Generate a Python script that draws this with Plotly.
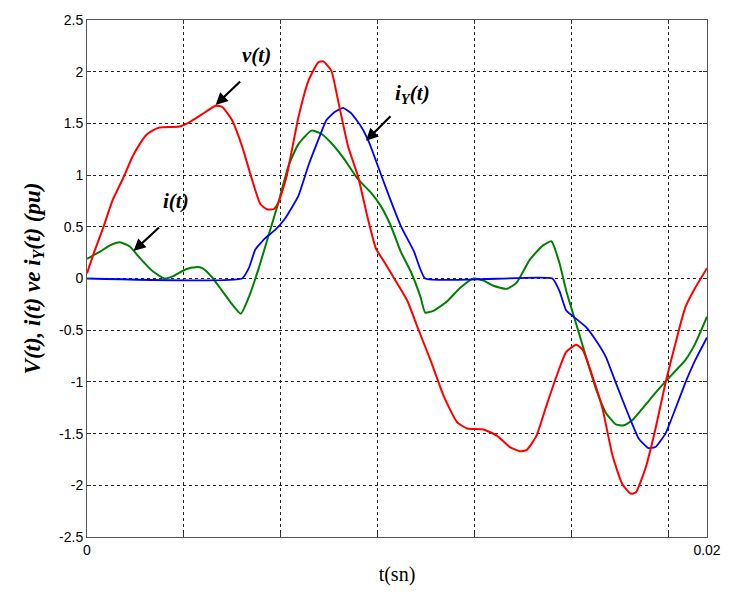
import plotly.graph_objects as go

# Time samples (s) and per-unit values for each waveform
t_v = [0.0, 0.00026, 0.00051, 0.00083, 0.00115, 0.00147, 0.0017, 0.00192, 0.00211, 0.00234,
       0.00298, 0.0033, 0.00372,
       0.00415, 0.00436, 0.00468, 0.005, 0.00532, 0.00559, 0.0058, 0.00602, 0.00618, 0.00644,
       0.00682, 0.00714, 0.00746, 0.00762, 0.00788, 0.0081, 0.00842, 0.00874, 0.00906, 0.00932,
       0.00959, 0.00991, 0.01034, 0.01066, 0.01108, 0.01151, 0.01194, 0.01226, 0.01279, 0.01322,
       0.01364, 0.01396, 0.01418, 0.0145, 0.01482, 0.01514, 0.01546, 0.01578, 0.01599, 0.01631,
       0.01663, 0.01695, 0.01727, 0.01754, 0.0177, 0.01802, 0.01834, 0.01866, 0.01898, 0.0193,
       0.01962, 0.02]
v = [0.05, 0.28, 0.48, 0.76, 0.96, 1.18, 1.30, 1.39, 1.43, 1.46,
     1.47, 1.51, 1.59,
     1.67, 1.66, 1.53, 1.28, 0.96, 0.72, 0.67, 0.67, 0.74, 0.99,
     1.56, 1.91, 2.09, 2.10, 2.01, 1.72, 1.28, 0.99, 0.58, 0.29,
     0.16, 0.0, -0.22, -0.47, -0.79, -1.14, -1.39, -1.45, -1.46, -1.52,
     -1.63, -1.67, -1.66, -1.52, -1.23, -0.95, -0.71, -0.64, -0.69, -0.95,
     -1.26, -1.71, -1.99, -2.08, -2.07, -1.83, -1.45, -1.01, -0.63, -0.28,
     -0.09, 0.10]

t_i = [0.0, 0.00042, 0.00074, 0.00106, 0.00138, 0.0017, 0.00212, 0.0025, 0.00276, 0.00319,
       0.00351, 0.00372, 0.00404, 0.00436, 0.00463, 0.00496, 0.00522, 0.00554, 0.00586, 0.00618,
       0.0065, 0.00682, 0.00724, 0.00756, 0.00788, 0.00831, 0.00874, 0.00916, 0.00948, 0.0098,
       0.01012, 0.01044, 0.01076, 0.01091, 0.01119, 0.01162, 0.01204, 0.01247, 0.01279, 0.01311,
       0.01354, 0.01386, 0.01428, 0.01471, 0.01498, 0.01524, 0.01546, 0.01578, 0.0161, 0.01642,
       0.01674, 0.01706, 0.01732, 0.01759, 0.01802, 0.01844, 0.01887, 0.0193, 0.01962, 0.02]
i = [0.19, 0.26, 0.32, 0.35, 0.31, 0.20, 0.07, 0.0, 0.02, 0.09,
     0.11, 0.10, 0.01, -0.12, -0.23, -0.34, -0.18, 0.10, 0.42, 0.74,
     1.09, 1.30, 1.43, 1.40, 1.31, 1.15, 0.96, 0.83, 0.70, 0.51,
     0.26, 0.07, -0.18, -0.33, -0.31, -0.22, -0.09, 0.0, -0.02, -0.07,
     -0.10, -0.04, 0.18, 0.32, 0.36, 0.15, -0.12, -0.44, -0.76, -1.07,
     -1.30, -1.41, -1.42, -1.37, -1.22, -1.07, -0.93, -0.79, -0.63, -0.37]

t_iy = [0.0, 0.005, 0.00522, 0.00543, 0.00575, 0.00607, 0.00639, 0.00682, 0.00714, 0.00746,
        0.00772, 0.00799, 0.00826, 0.00852, 0.00884, 0.00911, 0.00938, 0.0097, 0.01012, 0.01055,
        0.01091, 0.01501, 0.01524, 0.01546, 0.01578, 0.0161, 0.01642, 0.01674, 0.01706, 0.01748,
        0.0178, 0.01811, 0.01834, 0.01866, 0.01898, 0.0193, 0.01962, 0.02]
iy = [0.0, 0.0, 0.10, 0.28, 0.39, 0.47, 0.58, 0.80, 1.09, 1.34,
      1.53, 1.61, 1.65, 1.60, 1.47, 1.31, 1.09, 0.83, 0.51, 0.26,
      0.0, 0.0, -0.12, -0.31, -0.39, -0.47, -0.60, -0.76, -1.01, -1.33,
      -1.55, -1.64, -1.63, -1.50, -1.26, -1.01, -0.79, -0.57]

# Grid positions along t, only the end points labelled
x_grid = [0.0, 0.003125, 0.00625, 0.009375, 0.0125, 0.015625, 0.01875, 0.02]
x_text = ["0", "", "", "", "", "", "", "0.02"]
y_ticks = [-2.5, -2, -1.5, -1, -0.5, 0, 0.5, 1, 1.5, 2, 2.5]
y_text = ["-2.5", "-2", "-1.5", "-1", "-0.5", "0", "0.5", "1", "1.5", "2", "2.5"]

serif = "Liberation Serif, Times New Roman, serif"

fig = go.Figure()
fig.add_trace(go.Scatter(x=t_i, y=i, mode="lines",
                         line=dict(color="#008000", width=2, shape="spline", smoothing=0.5)))
fig.add_trace(go.Scatter(x=t_iy, y=iy, mode="lines",
                         line=dict(color="#0000ff", width=1.8, shape="spline", smoothing=0.4)))
fig.add_trace(go.Scatter(x=t_v, y=v, mode="lines",
                         line=dict(color="#ff0000", width=2, shape="spline", smoothing=0.5)))

label_font = dict(family=serif, size=21, color="black")

# Curve labels
for txt, lx, ly in [("<b><i>v(t)</i></b>", 0.00547, 2.16),
                    ("<b><i>i(t)</i></b>", 0.00287, 0.745),
                    ("<b><i>i<sub>Y</sub>(t)</i></b>", 0.0105, 1.78)]:
    fig.add_annotation(x=lx, y=ly, text=txt, showarrow=False, font=label_font)

# Arrows pointing at each curve
for hx, hy, ax, ay in [(0.00415, 1.678, 26, -25),
                       (0.0015, 0.265, 27, -25),
                       (0.00900, 1.333, 26, -26)]:
    fig.add_annotation(x=hx, y=hy, ax=ax, ay=ay, text="", showarrow=True,
                       arrowhead=2, arrowsize=1.1, arrowwidth=2.2, arrowcolor="black")

axis_common = dict(showline=True, linecolor="#555555", linewidth=1, mirror="ticks",
                   showgrid=True, gridcolor="#222222", gridwidth=1, griddash="3px,3px",
                   ticks="inside", ticklen=4, tickcolor="#333333", zeroline=False,
                   tickfont=dict(family="Liberation Sans, Arial, sans-serif", size=14, color="black"))

fig.update_xaxes(range=[0, 0.02], tickvals=x_grid, ticktext=x_text,
                 title=dict(text="t(sn)", standoff=10,
                            font=dict(family=serif, size=20, color="black")),
                 **axis_common)
fig.update_yaxes(range=[-2.5, 2.5], tickvals=y_ticks, ticktext=y_text,
                 title=dict(text="<b><i>V(t), i(t) ve i<sub>Y</sub>(t) (pu)</i></b>", standoff=12,
                            font=dict(family=serif, size=23, color="black")),
                 **axis_common)

fig.update_layout(width=733, height=599, autosize=False, showlegend=False,
                  margin=dict(l=87, r=21, t=12, b=62),
                  paper_bgcolor="white", plot_bgcolor="white")

fig.write_html("out.html")
